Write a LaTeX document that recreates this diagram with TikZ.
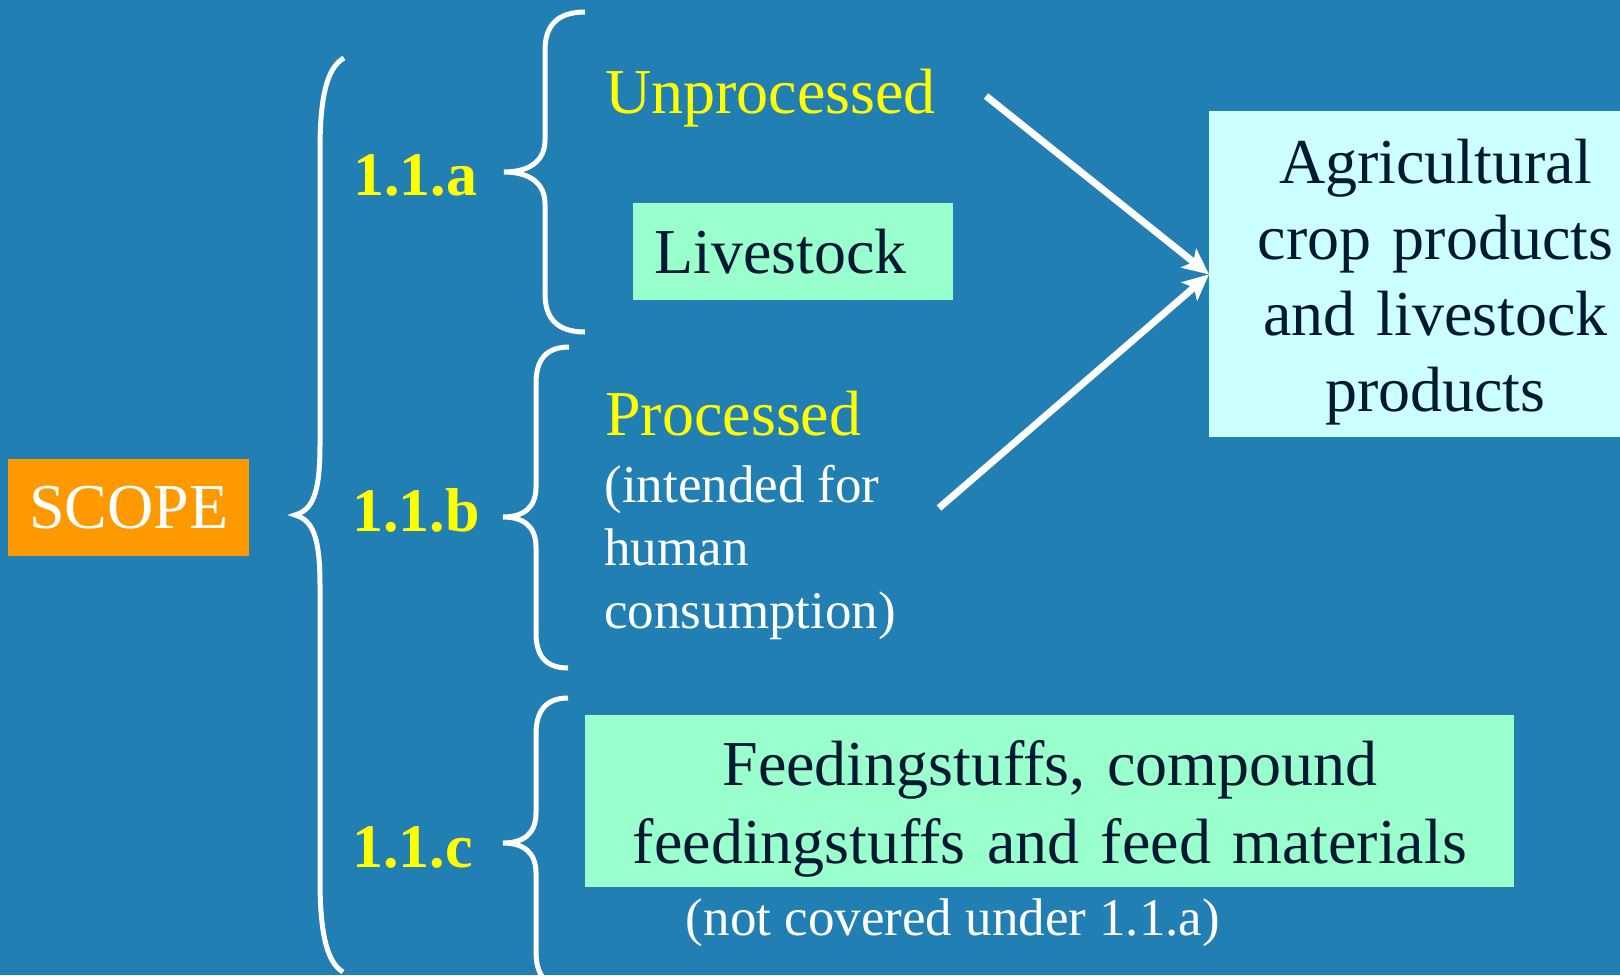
\documentclass[tikz,border=0pt]{standalone}
\usepackage{fontspec}
\setmainfont{Liberation Serif}
\usetikzlibrary{arrows.meta}
\definecolor{bg}{HTML}{227FB4}
\definecolor{mint}{HTML}{99FFCC}
\definecolor{lcyan}{HTML}{CCFFFF}
\definecolor{orng}{HTML}{FF9900}
\definecolor{dark}{HTML}{001933}
\definecolor{yell}{HTML}{FFFF00}
\begin{document}
\begin{tikzpicture}[x=0.5pt,y=-0.5pt,
  bigtext/.style={font=\fontsize{32pt}{38pt}\selectfont},
  smalltext/.style={font=\fontsize{26.5pt}{31.5pt}\selectfont, text=white},
  lbl/.style={font=\fontsize{31pt}{36pt}\selectfont\bfseries, text=yell, anchor=base west, inner sep=0pt},
  ytext/.style={bigtext, text=yell, anchor=base west, inner sep=0pt},
  brace/.style={draw=white, line width=2.5pt},
  arr/.style={draw=white, line width=3.5pt, -{Stealth[length=13pt,width=12pt,inset=3pt]}},
  box/.style={anchor=north west, inner sep=0pt, text=dark, bigtext}
]
\fill[bg] (0,0) rectangle (1620,975);
\useasboundingbox (0,0) rectangle (1620,975);

% SCOPE
\node[fill=orng, text=white, bigtext, minimum width=120.5pt, minimum height=48.5pt, inner sep=0pt, anchor=north west] (scope) at (8,459) {SCOPE};

% big brace
\draw[brace] (344,58) .. controls (326,68) and (320,100) .. (320,150) -- (320,445)
  .. controls (320,495) and (312,510) .. (295,515)
  .. controls (312,520) and (320,535) .. (320,585) -- (320,880)
  .. controls (320,930) and (326,962) .. (343,972);

% labels
\node[lbl] (la) at (353,195) {1.1.a};
\node[lbl] (lb) at (352,531) {1.1.b};
\node[lbl] (lc) at (352,867) {1.1.c};

% brace a
\draw[brace] (585,12) .. controls (558,12) and (545,25) .. (545,50) -- (545,140)
  .. controls (545,162) and (528,172) .. (504,172)
  .. controls (528,172) and (545,182) .. (545,204) -- (545,294)
  .. controls (545,319) and (558,332) .. (585,332);
% brace b
\draw[brace] (569,347) .. controls (546,347) and (536,360) .. (536,383) -- (536,487)
  .. controls (536,508) and (523,517) .. (503,517)
  .. controls (523,517) and (536,526) .. (536,547) -- (536,633)
  .. controls (536,656) and (546,668) .. (568,668);
% brace c
\draw[brace] (568,698) .. controls (546,698) and (536,711) .. (536,734) -- (536,813)
  .. controls (536,834) and (523,843) .. (503,843)
  .. controls (523,843) and (536,852) .. (536,873) -- (536,952)
  .. controls (536,975) and (546,988) .. (568,988);

% texts
\node[ytext] (unproc) at (605,113) {Unprocessed};
\node[box, fill=mint, minimum width=160pt, minimum height=48.5pt, text width=139pt, inner xsep=10.5pt, align=left] (live) at (633,203) {Livestock};
\node[ytext] (proc) at (605,435) {Processed};
\node[smalltext, anchor=base west, inner sep=0pt, align=left] (procsub) at (604,628) {(intended for\\human\\consumption)};
\node[box, fill=lcyan, minimum width=226pt, minimum height=163pt, text width=220pt, align=center] (agri) at (1209,111)
  {\rule{0pt}{30pt}Agricultural\\crop products\\and livestock\\products};
\node[box, fill=mint, minimum width=464.5pt, minimum height=86pt, text width=450pt, align=center, font=\fontsize{32pt}{39pt}\selectfont] (feed) at (585,715)
  {\rule{0pt}{30pt}Feedingstuffs, compound\\feedingstuffs and feed materials};
\node[smalltext, anchor=base, inner sep=0pt] (notcov) at (953,935) {(not covered under 1.1.a)};

% arrows
\coordinate (a1s) at (986,96);
\coordinate (a2s) at (939,508);
\draw[arr] (a1s) -- (agri.west);
\draw[arr] (a2s) -- (agri.west);
\end{tikzpicture}
\end{document}
